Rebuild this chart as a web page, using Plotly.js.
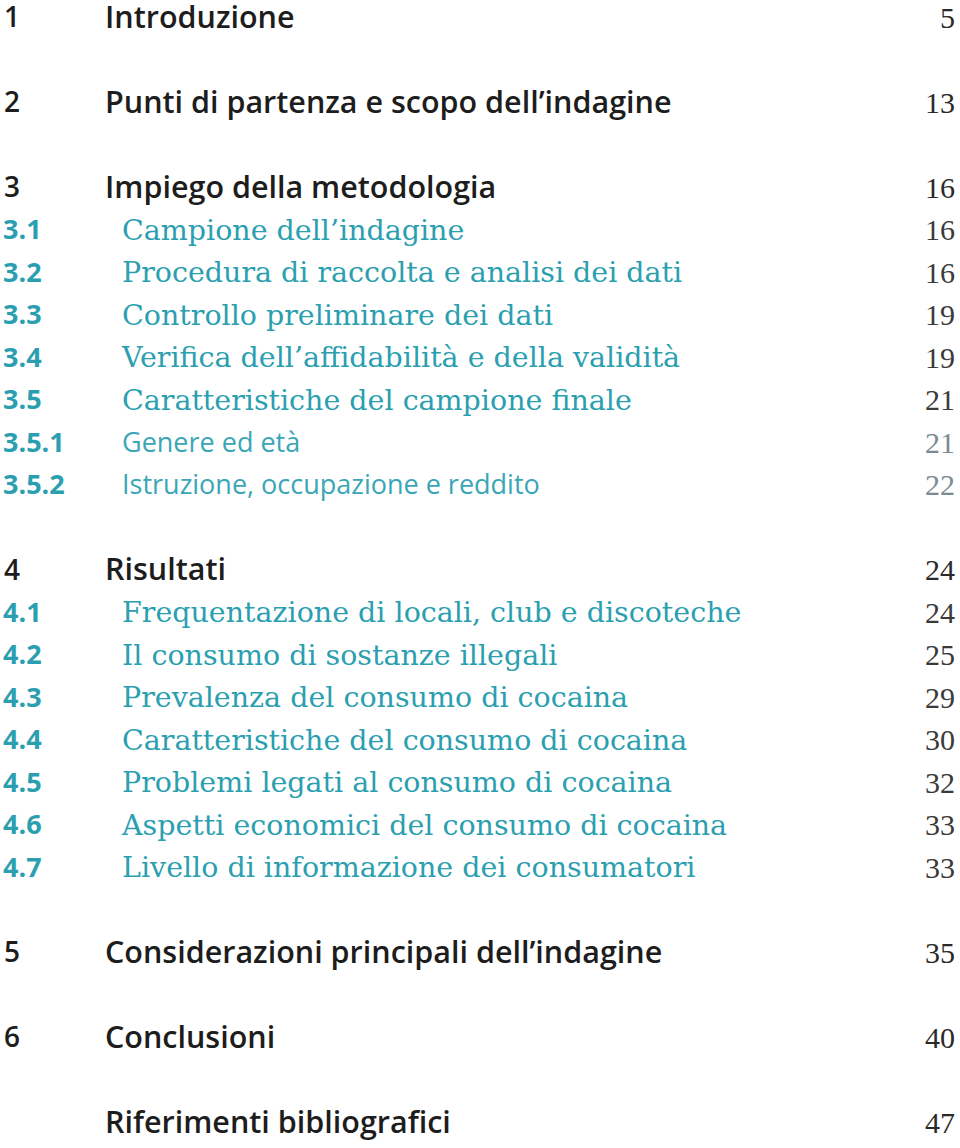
<!DOCTYPE html>
<html>
<head>
<meta charset="utf-8">
<script src="https://cdn.plot.ly/plotly-3.0.1.min.js"></script>
<style>
html,body{margin:0;padding:0;background:#fff;}
#chart{width:960px;height:1148px;}
</style>
</head>
<body>
<div id="chart"></div>
<script>
const numbers = ["1","2","3","3.1","3.2","3.3","3.4","3.5","3.5.1","3.5.2","4","4.1","4.2","4.3","4.4","4.5","4.6","4.7","5","6",""];
const titles = [
  "Introduzione",
  "Punti di partenza e scopo dell’indagine",
  "Impiego della metodologia",
  "Campione dell’indagine",
  "Procedura di raccolta e analisi dei dati",
  "Controllo preliminare dei dati",
  "Verifica dell’affidabilità e della validità",
  "Caratteristiche del campione finale",
  "Genere ed età",
  "Istruzione, occupazione e reddito",
  "Risultati",
  "Frequentazione di locali, club e discoteche",
  "Il consumo di sostanze illegali",
  "Prevalenza del consumo di cocaina",
  "Caratteristiche del consumo di cocaina",
  "Problemi legati al consumo di cocaina",
  "Aspetti economici del consumo di cocaina",
  "Livello di informazione dei consumatori",
  "Considerazioni principali dell’indagine",
  "Conclusioni",
  "Riferimenti bibliografici"
];
const pages = ["5","13","16","16","16","19","19","21","21","22","24","24","25","29","30","32","33","33","35","40","47"];
const levels = [1,1,1,2,2,2,2,2,3,3,1,2,2,2,2,2,2,2,1,1,1];

// row index: a blank row precedes every top-level entry except the first
const rows = [];
let r = -1;
levels.forEach((lv, i) => { r += (lv === 1 && i > 0) ? 2 : 1; rows.push(r); });

const TEAL = "#2b9fb0";
const DARK = "#1d1d1d";

function pick(lv){ return levels.map((l,i)=>l===lv?i:-1).filter(i=>i>=0); }

const rowStep = 42.5, rowTop = 20;
const yOf = i => rowTop + rows[i]*rowStep;

const styles = {
  1: {numFont:{family:"Open Sans", size:28, color:DARK, weight:600}, numX:4,
      titleFont:{family:"Open Sans", size:30.5, color:DARK, weight:600}, titleX:105,
      pageFont:{family:"Liberation Serif", size:30, color:"#2a2a2a"}},
  2: {numFont:{family:"Open Sans", size:27, color:TEAL, weight:700}, numX:3,
      titleFont:{family:"DejaVu Serif", size:28.5, color:TEAL}, titleX:122,
      pageFont:{family:"Liberation Serif", size:30, color:"#3a3a3a"}},
  3: {numFont:{family:"Open Sans", size:27, color:TEAL, weight:700}, numX:3,
      titleFont:{family:"Open Sans", size:27, color:"#3aa6b6"}, titleX:122,
      pageFont:{family:"Liberation Serif", size:30, color:"#7d8a90"}}
};

const traces = [];
[1,2,3].forEach(lv => {
  const idx = pick(lv), s = styles[lv];
  const ys = idx.map(yOf);
  const base = {type:"scatter", mode:"text", y:ys, hoverinfo:"skip", cliponaxis:false};
  traces.push(Object.assign({}, base, {x:idx.map(()=>s.numX),
    text:idx.map(i=>numbers[i]), textposition:"middle right", textfont:s.numFont}));
  traces.push(Object.assign({}, base, {x:idx.map(()=>s.titleX),
    text:idx.map(i=>titles[i]), textposition:"middle right", textfont:s.titleFont}));
  traces.push(Object.assign({}, base, {x:idx.map(()=>955),
    text:idx.map(i=>pages[i]), textposition:"middle left", textfont:s.pageFont}));
});

Plotly.newPlot("chart", traces, {
  width:960, height:1148,
  margin:{l:0,r:0,t:0,b:0},
  paper_bgcolor:"#fff", plot_bgcolor:"#fff",
  showlegend:false,
  xaxis:{range:[0,960], visible:false, fixedrange:true},
  yaxis:{range:[1148,0], visible:false, fixedrange:true}
}, {staticPlot:true});
</script>
</body>
</html>
